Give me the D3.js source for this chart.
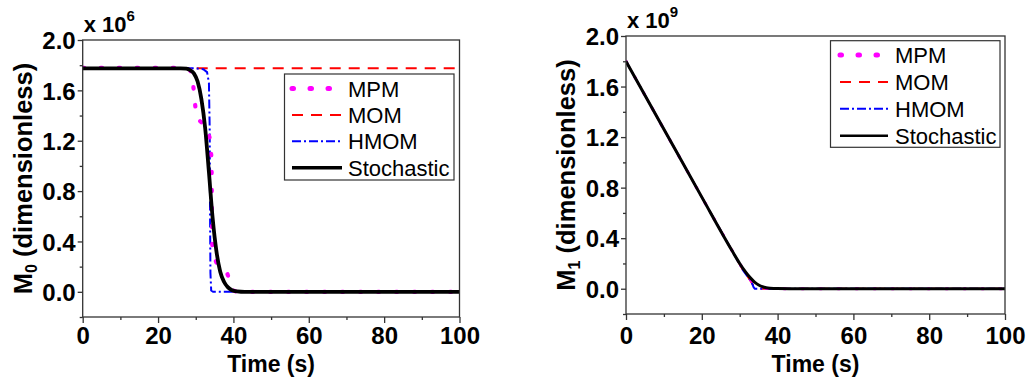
<!DOCTYPE html>
<html><head><meta charset="utf-8">
<script src="https://cdn.jsdelivr.net/npm/d3@7/dist/d3.min.js"></script>
<style>body{margin:0;background:#fff}svg{display:block}</style>
</head><body><svg id="c" width="1029" height="378"></svg>
<script>
// ---------- data ----------
const seriesNames = ["MPM", "MOM", "HMOM", "Stochastic"];
const timeTicks = [0, 20, 40, 60, 80, 100];
const timeMinorTicks = [10, 30, 50, 70, 90];
const yTicks = [0.0, 0.4, 0.8, 1.2, 1.6, 2.0];
const yMinorTicks = [-0.2, 0.2, 0.6, 1.0, 1.4, 1.8];

// Left panel: M0 (x 10^6) vs time [t, value]
const m0MPM = [[0,1.778],[28,1.778],[29,1.74],[29.8,1.50],[30.2,1.38],[32.9,1.31],[33.8,1.21],[34.2,1.05],[34.3,0.62],[34.4,0.32],[35.5,0.23],[38.2,0.16],[39.1,0.08],[40,0.01],[41,0],[100,0]];
const m0MOM = [[0,1.775],[100,1.775]];
const m0HMOM = [[0,1.775],[30,1.775],[32,1.768],[33,1.745],[33.5,1.66],[33.7,1.3],[33.8,0.6],[33.9,0.15],[34.1,0.01],[34.6,0],[100,0]];
const m0Stoch = [[0,1.775],[26,1.775],[27.5,1.772],[28.5,1.76],[29.5,1.735],[30.5,1.67],[31.5,1.53],[32.5,1.30],[33.5,0.95],[34.5,0.58],[35.5,0.32],[36.5,0.16],[37.5,0.08],[38.5,0.037],[39.5,0.015],[41,0.004],[43,0],[100,0]];

// Right panel: M1 (x 10^9) vs time [t, value]
const m1MPM = [[0,1.80],[10,1.262],[20,0.725],[28,0.30],[31,0.15],[32,0.105],[33,0.065],[34,0.033],[35,0.014],[36,0.005],[38,0],[100,0]];
const m1MOM = [[0,1.80],[10,1.262],[20,0.725],[28,0.30],[31,0.14],[32,0.10],[33,0.055],[33.5,0.03],[34,0.012],[35,0.003],[36,0],[100,0]];
const m1HMOM = [[0,1.80],[10,1.262],[20,0.725],[28,0.30],[31,0.14],[32,0.10],[33,0.06],[33.7,0.01],[34,0],[100,0]];
const m1Stoch = [[0,1.80],[10,1.262],[20,0.725],[28,0.30],[30,0.20],[31,0.155],[32,0.115],[33,0.08],[34,0.05],[35,0.03],[36,0.016],[37,0.008],[38,0.004],[40,0.001],[45,0],[100,0]];

// ---------- styles ----------
const styles = {
  MPM:        {color:"#ff00ff", dash:"1.5,16.5", width:5, cap:"round", curve:d3.curveLinear},
  MOM:        {color:"#ff0000", dash:"11,8", width:2, cap:"butt", curve:d3.curveLinear},
  HMOM:       {color:"#0000ff", dash:"9,3,2,3", width:2, cap:"butt", curve:d3.curveLinear},
  Stochastic: {color:"#000000", dash:null, width:3.6, cap:"butt", curve:d3.curveMonotoneX}
};
const FONT = "'Liberation Sans', Arial, Helvetica, sans-serif";

const svg = d3.select("#c");

function drawPanel(cfg) {
  const x = d3.scaleLinear().domain([0, 100]).range([cfg.x0, cfg.x1]);
  const y = d3.scaleLinear().domain([-0.2, 2.0]).range([cfg.y1, cfg.y0]);
  const g = svg.append("g");
  const clipId = "clip" + cfg.id;
  svg.append("clipPath").attr("id", clipId).append("rect")
    .attr("x", cfg.x0).attr("y", cfg.y0).attr("width", cfg.x1 - cfg.x0).attr("height", cfg.y1 - cfg.y0);

  const order = ["MOM", "HMOM", "MPM", "Stochastic"];
  const line = c => d3.line().x(d => x(d[0])).y(d => y(d[1])).curve(c);
  const lg = g.append("g").attr("clip-path", `url(#${clipId})`);
  order.forEach(name => {
    const s = styles[name];
    const w = name === "Stochastic" ? cfg.stochWidth : (name === "MPM" ? cfg.mpmWidth : s.width);
    lg.append("path").datum(cfg.data[name])
      .attr("d", line(s.curve))
      .attr("fill", "none").attr("stroke", s.color)
      .attr("stroke-width", w)
      .attr("stroke-linecap", s.cap)
      .attr("stroke-dasharray", s.dash);
  });

  g.append("rect").attr("x", cfg.x0).attr("y", cfg.y0)
    .attr("width", cfg.x1 - cfg.x0).attr("height", cfg.y1 - cfg.y0)
    .attr("fill", "none").attr("stroke", "#333").attr("stroke-width", 1.3);

  const ax = g.append("g").attr("transform", `translate(0,${cfg.y1})`)
    .call(d3.axisBottom(x).tickValues(timeTicks).tickSize(6).tickPadding(6).tickFormat(d3.format("d")));
  const axm = g.append("g").attr("transform", `translate(0,${cfg.y1})`)
    .call(d3.axisBottom(x).tickValues(timeMinorTicks).tickSize(3).tickFormat(""));
  const ay = g.append("g").attr("transform", `translate(${cfg.x0},0)`)
    .call(d3.axisLeft(y).tickValues(yTicks).tickSize(5).tickPadding(2).tickFormat(d3.format(".1f")));
  const aym = g.append("g").attr("transform", `translate(${cfg.x0},0)`)
    .call(d3.axisLeft(y).tickValues(yMinorTicks).tickSize(3).tickFormat(""));
  [ax, axm, ay, aym].forEach(a => {
    a.select(".domain").remove();
    a.selectAll("line").attr("stroke", "#333").attr("stroke-width", 1.3);
    a.selectAll("text").attr("fill", "#000").style("font-family", FONT)
      .style("font-weight", "bold").style("font-size", "24px");
  });
  ax.selectAll("text").attr("dy", null).attr("y", 344 - cfg.y1);
  ay.selectAll("text").attr("dy", "0.36em");

  g.append("text").attr("x", (cfg.x0 + cfg.x1) / 2).attr("y", 372)
    .attr("text-anchor", "middle").style("font-family", FONT)
    .style("font-weight", "bold").style("font-size", "23px").text("Time (s)");

  const yt = g.append("text")
    .attr("transform", `translate(${cfg.x0 - 51},${(cfg.y0 + cfg.y1) / 2}) rotate(-90)`)
    .attr("text-anchor", "middle").style("font-family", FONT)
    .style("font-weight", "bold").style("font-size", "25.5px");
  yt.append("tspan").text("M");
  yt.append("tspan").attr("dy", 5).style("font-size", "16px").text(cfg.sub);
  yt.append("tspan").attr("dy", -5).text(" (dimensionless)");

  const mt = g.append("text").attr("x", cfg.x0 + 1).attr("y", cfg.y0 - 8)
    .style("font-family", FONT).style("font-weight", "bold").style("font-size", "22px");
  mt.append("tspan").text("x 10");
  mt.append("tspan").attr("dy", -11).style("font-size", "15px").text(cfg.exp);

  const L = cfg.legend;
  g.append("rect").attr("x", L.x).attr("y", L.y).attr("width", L.w).attr("height", L.h)
    .attr("fill", "#fff").attr("stroke", "#333").attr("stroke-width", 1.2);
  seriesNames.forEach((name, i) => {
    const s = styles[name];
    const yy = L.rowY + i * L.rowH;
    g.append("line").attr("x1", L.sx0).attr("x2", L.sx1).attr("y1", yy).attr("y2", yy)
      .attr("stroke", s.color)
      .attr("stroke-width", name === "Stochastic" ? cfg.legStochWidth : s.width)
      .attr("stroke-linecap", s.cap).attr("stroke-dasharray", s.dash);
    g.append("text").attr("x", L.tx).attr("y", yy + 8)
      .style("font-family", FONT).style("font-size", "22px").text(name);
  });
}

drawPanel({
  id: "L", x0: 82.7, x1: 459.5, y0: 40, y1: 317, sub: "0", exp: "6",
  stochWidth: 3.8, legStochWidth: 3.5, mpmWidth: 4.2,
  data: {MPM: m0MPM, MOM: m0MOM, HMOM: m0HMOM, Stochastic: m0Stoch},
  legend: {x: 284.5, y: 74, w: 169.5, h: 106, rowY: 88.5, rowH: 26.4, sx0: 292, sx1: 342, tx: 348}
});
drawPanel({
  id: "R", x0: 626, x1: 1005, y0: 36, y1: 314, sub: "1", exp: "9",
  stochWidth: 3, legStochWidth: 2.5, mpmWidth: 3,
  data: {MPM: m1MPM, MOM: m1MOM, HMOM: m1HMOM, Stochastic: m1Stoch},
  legend: {x: 830.5, y: 40.7, w: 169.5, h: 106.6, rowY: 55, rowH: 26.9, sx0: 840, sx1: 888, tx: 895}
});
</script></body></html>
